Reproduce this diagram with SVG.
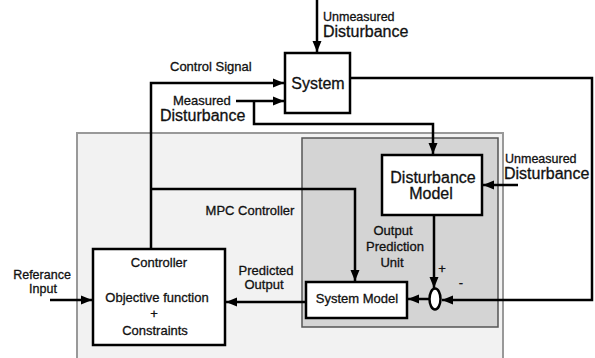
<svg xmlns="http://www.w3.org/2000/svg" width="595" height="358" viewBox="0 0 595 358">
<defs>
<marker id="arr" markerUnits="userSpaceOnUse" markerWidth="12" markerHeight="10" refX="11" refY="5" orient="auto">
<path d="M0,0.5 L11,5 L0,9.5 Z" fill="#000"/>
</marker>
<style>
.t{font-family:"Liberation Sans",Arial,sans-serif;fill:#111;font-size:13px;stroke:#111;stroke-width:0.3}
.b{font-size:16px}
.box{fill:#fff;stroke:#000;stroke-width:2.5}
.w{fill:none;stroke:#000;stroke-width:2.5}
.m{text-anchor:middle}
</style>
</defs>
<rect width="595" height="358" fill="#fff"/>
<g id="mpc-controller">
<rect x="77" y="133" width="426" height="230" fill="#f2f2f2" stroke="#999" stroke-width="2"/>
<text class="t m" x="250" y="215">MPC Controller</text>
</g>
<g id="output-prediction-unit">
<rect x="302" y="138" width="196" height="189" fill="#d4d4d4" stroke="#555" stroke-width="1.5"/>
<text class="t m" x="393" y="235">Output</text>
<text class="t m" x="395" y="251">Prediction</text>
<text class="t m" x="392" y="267">Unit</text>
</g>
<g id="connectors">
<path class="w" d="M317,0 V52" marker-end="url(#arr)"/>
<path class="w" d="M151,249 V83 H284" marker-end="url(#arr)"/>
<path class="w" d="M151,189 H355 V281" marker-end="url(#arr)"/>
<path class="w" d="M236,101 H284" marker-end="url(#arr)"/>
<path class="w" d="M254,101 V124 H433 V154" marker-end="url(#arr)"/>
<path class="w" d="M518,185 H483" marker-end="url(#arr)"/>
<path class="w" d="M350,78 H592 V300 H442" marker-end="url(#arr)"/>
<path class="w" d="M434,215 V288" marker-end="url(#arr)"/>
<path class="w" d="M429,299 H408" marker-end="url(#arr)"/>
<path class="w" d="M306,302 H226" marker-end="url(#arr)"/>
<path class="w" d="M50,300 H92" marker-end="url(#arr)"/>
</g>
<g id="system">
<rect class="box" x="285" y="53" width="65" height="60"/>
<text class="t b m" x="318" y="89">System</text>
</g>
<g id="disturbance-model">
<rect class="box" x="382" y="155" width="100" height="60"/>
<text class="t b m" x="433" y="183">Disturbance</text>
<text class="t b m" x="431" y="199">Model</text>
</g>
<g id="sum">
<ellipse cx="435" cy="299" rx="5.5" ry="10.5" fill="#fff" stroke="#000" stroke-width="2.5"/>
<text class="t m" x="442" y="273">+</text>
<text class="t m" x="461" y="287">-</text>
</g>
<g id="system-model">
<rect class="box" x="306" y="282" width="101" height="36"/>
<text class="t m" x="357" y="303">System Model</text>
</g>
<g id="controller">
<rect class="box" x="93" y="249" width="132" height="96"/>
<text class="t m" x="159" y="267">Controller</text>
<text class="t m" x="157" y="302">Objective function</text>
<text class="t m" x="154" y="318">+</text>
<text class="t m" x="155" y="335">Constraints</text>
</g>
<g id="labels">
<text class="t" x="323" y="21" style="font-size:12.5px">Unmeasured</text>
<text class="t b" x="323" y="37">Disturbance</text>
<text class="t" x="170" y="71">Control Signal</text>
<text class="t" x="173" y="105">Measured</text>
<text class="t b" x="160" y="121">Disturbance</text>
<text class="t" x="505" y="163" style="font-size:12.5px">Unmeasured</text>
<text class="t b" x="504" y="179">Disturbance</text>
<text class="t m" x="42" y="279" style="font-size:12.5px">Referance</text>
<text class="t m" x="43" y="293" style="font-size:12.5px">Input</text>
<text class="t m" x="266" y="275">Predicted</text>
<text class="t m" x="264" y="289">Output</text>
</g>
</svg>
